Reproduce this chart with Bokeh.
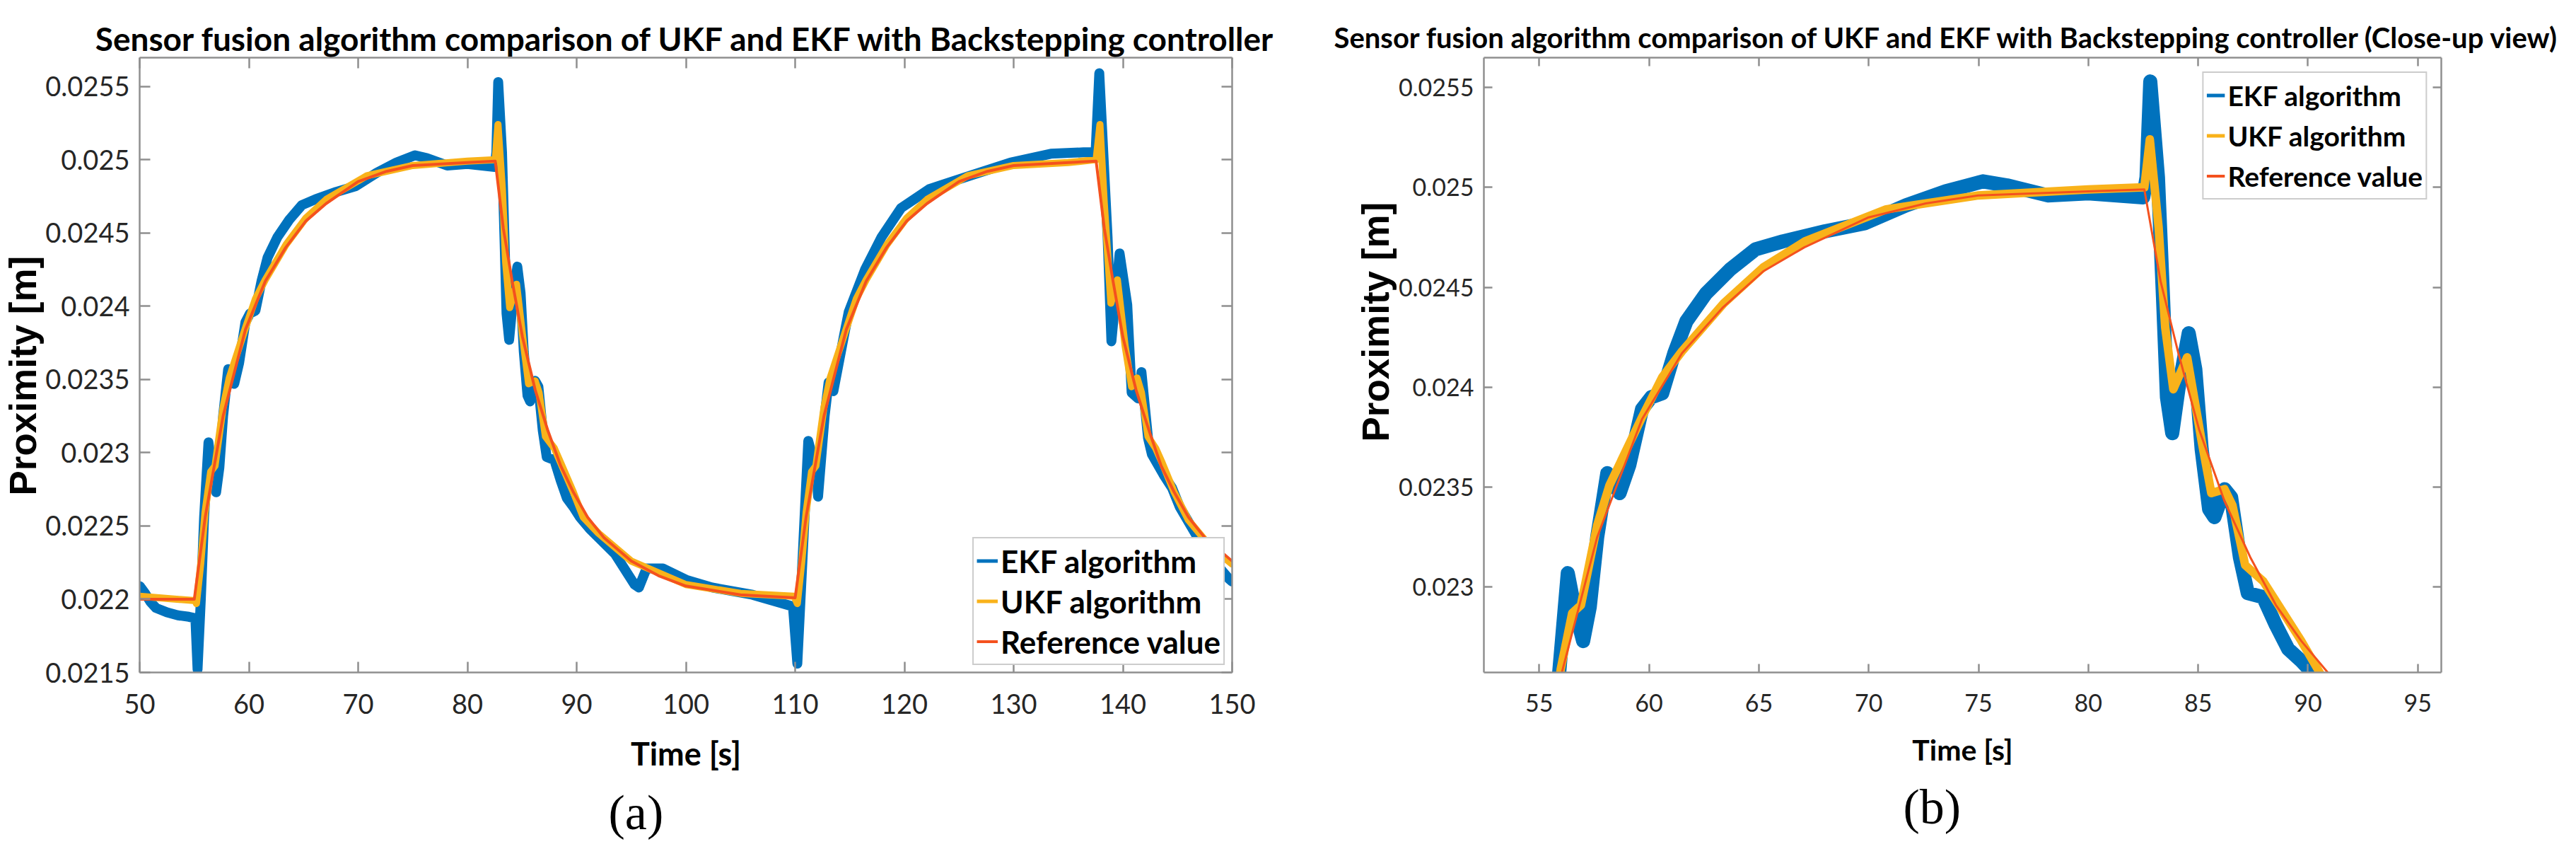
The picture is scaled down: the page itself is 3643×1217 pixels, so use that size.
from bokeh.plotting import figure
from bokeh.models import (LinearAxis, FixedTicker, CustomJSTickFormatter, Title,
                          Legend, LegendItem, Range1d)
from bokeh.layouts import row
from bokeh.embed import file_html
from bokeh.resources import INLINE

# ---------------- data ----------------
t_ekf = [50.0, 50.5, 51.0, 51.5, 52.5, 53.5, 54.5, 55.1, 55.3, 55.6, 55.9, 56.3, 56.6,
         57.0, 57.3, 57.64, 58.1, 58.66, 59.1, 59.68, 60.1, 60.6, 61.15, 61.7, 62.6,
         63.7, 64.85, 66.1, 68.0, 69.8, 71.7, 73.5, 75.2, 76.3, 78.15, 80.0, 82.5,
         82.65, 82.82, 83.17, 83.4, 83.58, 83.82, 84.1, 84.57, 84.87, 85.16, 85.5,
         85.74, 86.2, 86.5, 86.9, 87.26, 87.96, 88.54, 89.1, 89.7, 90.3, 91.2, 93.5,
         95.3, 95.7, 96.4, 97.9, 100.1, 102.4, 106.1, 109.8, 110.2, 110.7, 111.2,
         111.95, 112.1, 112.7, 113.06, 113.5, 114.5, 114.9, 116.4, 117.9, 119.7,
         122.3, 126.0, 129.7, 133.4, 136.4, 137.5, 137.84, 138.6, 138.95, 139.7,
         140.4, 140.8, 141.4, 141.7, 142.3, 142.65, 143.8, 144.5, 145.2, 146.7,
         148.2, 149.7, 150.0]
ekf = [0.02209, 0.02204, 0.02198, 0.02194, 0.02191, 0.02189, 0.02188, 0.02187, 0.02152,
       0.02200, 0.02256, 0.02307, 0.02290, 0.02273, 0.02290, 0.02325, 0.02357, 0.02347,
       0.02361, 0.02389, 0.02395, 0.02397, 0.02417, 0.02433, 0.02447, 0.02459, 0.02469,
       0.02473, 0.02478, 0.02482, 0.02491, 0.02498, 0.02503, 0.02501, 0.02496, 0.02497,
       0.02495, 0.02505, 0.02553, 0.02505, 0.02445, 0.02395, 0.02377, 0.02399, 0.02427,
       0.02409, 0.02369, 0.02339, 0.02335, 0.02349, 0.02345, 0.02315, 0.02297, 0.02295,
       0.02281, 0.02269, 0.02263, 0.02256, 0.02248, 0.02231, 0.02210, 0.02208, 0.02221,
       0.02221, 0.02213, 0.02208, 0.02203, 0.02195, 0.02156, 0.02231, 0.02308, 0.02287,
       0.02270, 0.02325, 0.02348, 0.02342, 0.02381, 0.02396, 0.02425, 0.02447, 0.02467,
       0.02480, 0.02489, 0.02498, 0.02504, 0.02505, 0.02505, 0.02559, 0.02447, 0.02376,
       0.02436, 0.02401, 0.02341, 0.02337, 0.02355, 0.02310, 0.02299, 0.02284, 0.02276,
       0.02263, 0.02244, 0.02227, 0.02214, 0.02212]

t_ukf = [50.0, 55.1, 55.2, 55.6, 55.98, 56.5, 56.9, 57.64, 58.2, 59.68, 60.6, 61.5, 63.4,
         65.2, 67.1, 70.8, 75.0, 80.0, 82.55, 82.8, 83.2, 83.5, 83.87, 84.5, 85.16,
         85.6, 86.2, 86.56, 87.14, 87.96, 88.54, 89.7, 90.6, 92.0, 95.0, 100.0, 105.0,
         109.9, 110.2, 110.6, 111.0, 111.5, 111.9, 112.64, 113.2, 114.7, 115.6, 116.5,
         118.4, 120.2, 122.1, 125.8, 130.0, 135.0, 137.55, 137.9, 138.3, 138.9, 139.5,
         140.2, 140.8, 141.3, 141.7, 142.3, 143.0, 143.6, 144.7, 146.0, 148.0, 150.0]
ukf = [0.02202, 0.02199, 0.02197, 0.02225, 0.02259, 0.02287, 0.02291, 0.02331, 0.02351,
       0.02385, 0.02405, 0.02418, 0.02442, 0.02460, 0.02473, 0.02489, 0.02496, 0.02499,
       0.02500, 0.02524, 0.02480, 0.02430, 0.02399, 0.02415, 0.02373, 0.02347, 0.02349,
       0.02341, 0.02311, 0.02303, 0.02293, 0.02273, 0.02256, 0.02245, 0.02226, 0.02210,
       0.02204, 0.02202, 0.02197, 0.02225, 0.02259, 0.02287, 0.02291, 0.02331, 0.02351,
       0.02385, 0.02405, 0.02418, 0.02442, 0.02460, 0.02473, 0.02489, 0.02496, 0.02498,
       0.02500, 0.02524, 0.02470, 0.02402, 0.02418, 0.02373, 0.02345, 0.02351, 0.02341,
       0.02311, 0.02303, 0.02293, 0.02273, 0.02254, 0.02236, 0.02224]

t_ref = [50.0, 55.0, 56.0, 57.64, 59.68, 61.5, 63.37, 65.2, 67.07, 70.0, 72.6, 75.0, 80.0,
         82.55, 83.29, 84.1, 85.04, 86.2, 87.37, 88.54, 89.7, 91.0, 92.5, 95.0, 97.5,
         100.0, 105.0, 110.0, 111.0, 112.64, 114.68, 116.5, 118.37, 120.2, 122.07,
         125.0, 127.6, 130.0, 135.0, 137.55, 138.3, 139.1, 140.0, 141.2, 142.4, 143.5,
         144.7, 146.0, 147.5, 150.0]
ref = [0.02200, 0.02200, 0.02256, 0.02325, 0.02384, 0.02417, 0.02440, 0.02458, 0.02470,
       0.02485, 0.02492, 0.02496, 0.02498, 0.02499, 0.02453, 0.02417, 0.02379, 0.02343,
       0.02315, 0.02291, 0.02273, 0.02256, 0.02242, 0.02226, 0.02216, 0.02209, 0.02203,
       0.02201, 0.02256, 0.02325, 0.02384, 0.02417, 0.02440, 0.02458, 0.02470, 0.02485,
       0.02492, 0.02496, 0.02498, 0.02499, 0.02453, 0.02417, 0.02379, 0.02343, 0.02315,
       0.02291, 0.02273, 0.02256, 0.02242, 0.02226]

x_ticks_a = [50, 60, 70, 80, 90, 100, 110, 120, 130, 140, 150]
y_ticks_a = [0.0215, 0.022, 0.0225, 0.023, 0.0235, 0.024, 0.0245, 0.025, 0.0255]
x_ticks_b = [55, 60, 65, 70, 75, 80, 85, 90, 95]
y_ticks_b = [0.023, 0.0235, 0.024, 0.0245, 0.025, 0.0255]

series_names = ["EKF algorithm", "UKF algorithm", "Reference value"]
title_a = "Sensor fusion algorithm comparison of UKF and EKF with Backstepping controller"
title_b = title_a + " (Close-up view)"

C_EKF = "#0072BD"
C_UKF = "#F9B21A"
C_REF = "#F4511E"
AX = "#8f8f8f"
FONT = "Lato"

yfmt_code = "return String(parseFloat(tick.toFixed(5)));"


def style_axis(ax, tick_len, fs, labels=True):
    ax.axis_line_color = AX
    ax.axis_line_width = 2.5
    ax.major_tick_line_color = AX
    ax.major_tick_line_width = 2.5
    ax.major_tick_in = tick_len
    ax.major_tick_out = 0
    ax.minor_tick_line_color = None
    if labels:
        ax.major_label_text_font = FONT
        ax.major_label_text_font_size = fs
        ax.major_label_text_color = "#262626"
    else:
        ax.major_label_text_font_size = "0px"
        ax.major_label_text_color = None
        ax.major_label_standoff = 0


def build(width, xr, yr, borders, xt, yt, tick_len, tick_fs, title_text, title_fs,
          title_align, title_offset, title_standoff, ylab_offset, xlab_fs, ylab_fs,
          tag, tag_offset, widths, legend_loc, legend_fs, legend_margin, glyph_w,
          xstand, ystand):
    l, r, t, b = borders
    p = figure(width=width, height=1199, x_range=Range1d(*xr), y_range=Range1d(*yr),
               output_backend="svg", toolbar_location=None,
               min_border_left=l, min_border_right=r, min_border_top=t,
               min_border_bottom=b)
    p.background_fill_color = "white"
    p.border_fill_color = "white"
    p.outline_line_color = None
    p.xgrid.visible = False
    p.ygrid.visible = False

    p.title.text = title_text
    p.title.text_font = FONT
    p.title.text_font_style = "bold"
    p.title.text_font_size = title_fs
    p.title.text_color = "black"
    p.title.align = title_align
    p.title.offset = title_offset
    p.title.standoff = title_standoff

    xa = p.xaxis[0]
    ya = p.yaxis[0]
    xa.ticker = FixedTicker(ticks=xt)
    ya.ticker = FixedTicker(ticks=yt)
    ya.formatter = CustomJSTickFormatter(code=yfmt_code)
    style_axis(xa, tick_len, tick_fs)
    style_axis(ya, tick_len, tick_fs)
    xa.major_label_standoff = xstand
    ya.major_label_standoff = ystand
    xa.axis_label = "Time [s]"
    xa.axis_label_text_font = FONT
    xa.axis_label_text_font_style = "bold"
    xa.axis_label_text_font_size = xlab_fs
    xa.axis_label_text_color = "black"
    xa.axis_label_standoff = 26

    top = LinearAxis(ticker=FixedTicker(ticks=xt))
    right = LinearAxis(ticker=FixedTicker(ticks=yt))
    style_axis(top, tick_len, tick_fs, labels=False)
    style_axis(right, tick_len, tick_fs, labels=False)
    p.add_layout(top, "above")
    p.add_layout(right, "right")

    p.add_layout(Title(text="Proximity [m]", align="left", offset=ylab_offset,
                       text_font="Liberation Sans", text_font_style="bold",
                       text_font_size=ylab_fs, text_color="black", standoff=0), "left")
    p.add_layout(Title(text=tag, align="left", offset=tag_offset,
                       text_font="Liberation Serif", text_font_style="normal",
                       text_font_size="70px", text_color="black", standoff=26), "below")

    w_ekf, w_ukf, w_ref = widths
    p.line(t_ekf, ekf, color=C_EKF, line_width=w_ekf, line_join="round", line_cap="round")
    p.line(t_ukf, ukf, color=C_UKF, line_width=w_ukf, line_join="round", line_cap="round")
    p.line(t_ref, ref, color=C_REF, line_width=w_ref, line_join="round", line_cap="round")

    # legend swatches: single-point lines (draw nothing in the plot) with thin strokes
    g1 = p.line(t_ekf[:1], ekf[:1], color=C_EKF, line_width=5)
    g2 = p.line(t_ukf[:1], ukf[:1], color=C_UKF, line_width=5)
    g3 = p.line(t_ref[:1], ref[:1], color=C_REF, line_width=4)
    leg = Legend(items=[LegendItem(label=series_names[0], renderers=[g1]),
                        LegendItem(label=series_names[1], renderers=[g2]),
                        LegendItem(label=series_names[2], renderers=[g3])],
                 location=legend_loc, margin=legend_margin)
    leg.label_text_font = FONT
    leg.label_text_font_style = "bold"
    leg.label_text_font_size = legend_fs
    leg.label_text_color = "black"
    leg.label_height = 55
    leg.glyph_height = 55
    leg.glyph_width = glyph_w
    leg.label_standoff = 4
    leg.spacing = 2
    leg.padding = 4
    leg.border_line_color = "#9a9a9a"
    leg.border_line_width = 2.5
    leg.background_fill_color = "white"
    leg.background_fill_alpha = 1.0
    p.add_layout(leg)
    return p


p1 = build(1840, (50, 150), (0.0215, 0.025696), (190, 98, 81, 241),
           x_ticks_a, y_ticks_a, 15, "38px", title_a, "46px", "center", 0, 0, 250,
           "45px", "53px", "(a)", 663, (14, 10, 4), "bottom_right", "44px", 10, 30, 30, 14)
p2 = build(1785, (52.48, 96.07), (0.022573, 0.025649), (258, 173, 70, 243),
           x_ticks_b, y_ticks_b, 12, "34px", title_b, "40px", "left", -212, 10, 326,
           "41px", "53px", "(b)", 593, (20, 12, 3), "top_right", "39px", 20, 26, 30, 14)

layout = row(p1, p2)
open("out.html", "w").write(file_html(layout, INLINE))
